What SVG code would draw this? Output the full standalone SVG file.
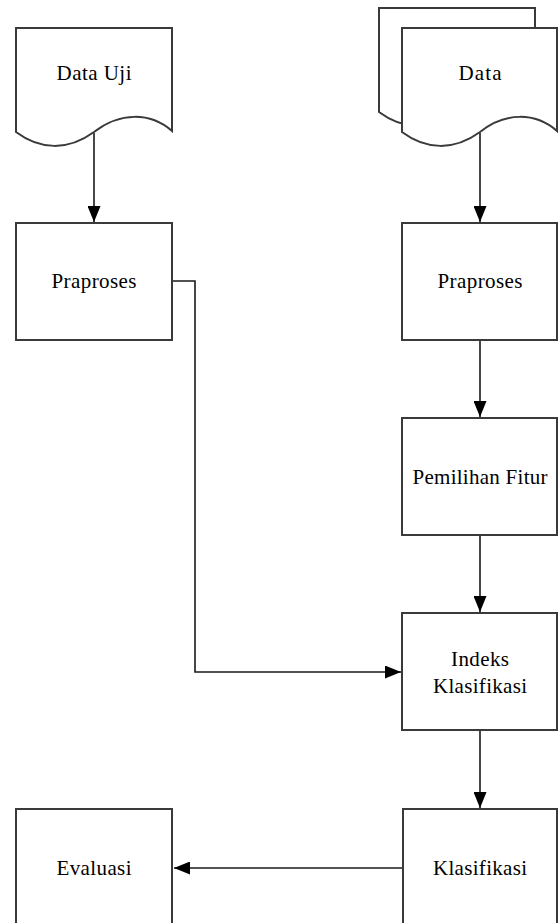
<svg xmlns="http://www.w3.org/2000/svg" width="558" height="923" viewBox="0 0 558 923">
  <defs>
    <style>
      .shape { fill: #ffffff; stroke: #3a3a3a; stroke-width: 2; }
      .conn { fill: none; stroke: #1a1a1a; stroke-width: 1.6; }
      .lbl { font-family: "Liberation Serif", "Times New Roman", serif; font-size: 21px; fill: #000; text-anchor: middle; }
    </style>
    <marker id="arrow" viewBox="0 0 16 13" refX="16" refY="6.5" markerWidth="16" markerHeight="13" markerUnits="userSpaceOnUse" orient="auto">
      <path d="M0,0 L16,6.5 L0,13 Z" fill="#000"/>
    </marker>
  </defs>
  <rect x="0" y="0" width="558" height="923" fill="#ffffff"/>

  <g id="connectors">
    <path class="conn" d="M94,133 V222" marker-end="url(#arrow)"/>
    <path class="conn" d="M480,133 V222" marker-end="url(#arrow)"/>
    <path class="conn" d="M480,341 V417" marker-end="url(#arrow)"/>
    <path class="conn" d="M480,536 V612" marker-end="url(#arrow)"/>
    <path class="conn" d="M173,281 H195 V672 H401" marker-end="url(#arrow)"/>
    <path class="conn" d="M480,731 V808" marker-end="url(#arrow)"/>
    <path class="conn" d="M402,868 H174" marker-end="url(#arrow)"/>
  </g>

  <g id="data-uji">
    <path class="shape" d="M16,28 H172 V131 C150,112 120,112 94,132 C68,151 40,150 16,132 Z"/>
    <text class="lbl" x="94" y="80" textLength="75" lengthAdjust="spacing">Data Uji</text>
  </g>

  <g id="data">
    <path class="shape" d="M379,8 H535 V111 C513,92 483,92 457,112 C431,131 403,130 379,112 Z"/>
    <path class="shape" d="M402,28 H557 V131 C535,112 505,112 480,132 C454,151 426,150 402,132 Z"/>
    <text class="lbl" x="480" y="80" textLength="43" lengthAdjust="spacing">Data</text>
  </g>

  <g id="praproses-uji">
    <rect class="shape" x="16" y="223" width="156" height="117"/>
    <text class="lbl" x="94" y="288" textLength="85" lengthAdjust="spacing">Praproses</text>
  </g>

  <g id="praproses-data">
    <rect class="shape" x="402" y="223" width="155" height="117"/>
    <text class="lbl" x="480" y="288" textLength="85" lengthAdjust="spacing">Praproses</text>
  </g>

  <g id="pemilihan-fitur">
    <rect class="shape" x="402" y="418" width="155" height="117"/>
    <text class="lbl" x="480" y="484" textLength="135" lengthAdjust="spacing">Pemilihan Fitur</text>
  </g>

  <g id="indeks-klasifikasi">
    <rect class="shape" x="402" y="613" width="155" height="117"/>
    <text class="lbl" x="480" y="666" textLength="58" lengthAdjust="spacing">Indeks</text>
    <text class="lbl" x="480" y="693" textLength="94" lengthAdjust="spacing">Klasifikasi</text>
  </g>

  <g id="klasifikasi">
    <rect class="shape" x="403" y="809" width="154" height="117"/>
    <text class="lbl" x="480" y="875" textLength="94" lengthAdjust="spacing">Klasifikasi</text>
  </g>

  <g id="evaluasi">
    <rect class="shape" x="16" y="809" width="156" height="117"/>
    <text class="lbl" x="94" y="875" textLength="75" lengthAdjust="spacing">Evaluasi</text>
  </g>
</svg>
